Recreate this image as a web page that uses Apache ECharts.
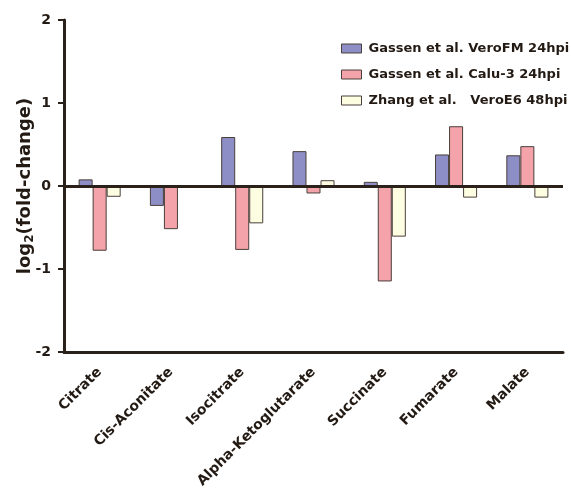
<!DOCTYPE html>
<html><head><meta charset="utf-8">
<script src="https://cdn.jsdelivr.net/npm/echarts@6/dist/echarts.min.js"></script>
<style>html,body{margin:0;padding:0;background:#fff}#c{width:571px;height:495px}</style>
</head><body><div id="c"></div>
<script>
var categories = ['Citrate','Cis-Aconitate','Isocitrate','Alpha-Ketoglutarate','Succinate','Fumarate','Malate'];
var seriesNames = ['Gassen et al. VeroFM 24hpi','Gassen et al. Calu-3 24hpi','Zhang et al.   VeroE6 48hpi'];
var veroFM = [0.08, -0.24, 0.59, 0.42, 0.05, 0.38, 0.37];
var calu3 = [-0.78, -0.52, -0.77, -0.09, -1.15, 0.72, 0.48];
var veroE6 = [-0.13, null, -0.45, 0.07, -0.61, -0.14, -0.14];
var yTicks = [-2, -1, 0, 1, 2];

var colors = ['#8e8ec6', '#f4a3aa', '#fdfde2'];
var axisColor = '#2a211b';
var txt = '#231a14';
var font = 'DejaVu Sans, Liberation Sans, Arial, sans-serif';

var chart = echarts.init(document.getElementById('c'));
var data = [veroFM, calu3, veroE6];
var series = data.map(function (d, i) {
  var s = {
    name: seriesNames[i],
    type: 'bar',
    data: d,
    barGap: '0%',
    barCategoryGap: '41%',
    itemStyle: { color: colors[i], borderColor: '#4a3f3a', borderWidth: 1 }
  };
  if (i === 2) {
    s.markLine = {
      silent: true, symbol: 'none', label: { show: false },
      lineStyle: { color: axisColor, width: 3, type: 'solid' },
      data: [{ yAxis: 0 }]
    };
  }
  return s;
});

chart.setOption({
  animation: false,
  color: colors,
  grid: { left: 64, right: 8, top: 20, bottom: 143, containLabel: false, outerBoundsMode: 'none' },
  legend: {
    orient: 'vertical', left: 336, top: 37,
    itemWidth: 20, itemHeight: 9, itemGap: 13,
    icon: 'rect',
    textStyle: { fontFamily: font, fontWeight: 'bold', fontSize: 13, color: txt, padding: [0,0,0,2] },
    itemStyle: { borderColor: '#4a3f3a', borderWidth: 1 },
    data: seriesNames
  },
  xAxis: {
    type: 'category', data: categories,
    axisLine: { onZero: false, lineStyle: { color: axisColor, width: 3 } },
    axisTick: { alignWithLabel: true, length: 6, lineStyle: { color: axisColor, width: 2 } },
    axisLabel: { rotate: 45, interval: 0, fontFamily: font, fontWeight: 'bold', fontSize: 14, color: txt, margin: 18 }
  },
  yAxis: {
    type: 'value', min: -2, max: 2, interval: 1,
    name: '{a|log}{b|2}{a|(fold-change)}',
    nameLocation: 'middle', nameGap: 28, nameRotate: 90, nameMoveOverlap: false,
    nameTextStyle: {
      rich: {
        a: { fontFamily: font, fontWeight: 'bold', fontSize: 18, color: txt },
        b: { fontFamily: font, fontWeight: 'bold', fontSize: 12, color: txt, verticalAlign: 'bottom', padding: [9,0,0,0] }
      }
    },
    axisLine: { show: true, lineStyle: { color: axisColor, width: 3 } },
    axisTick: { show: true, length: 6, lineStyle: { color: axisColor, width: 2 } },
    splitLine: { show: false },
    axisLabel: { fontFamily: font, fontWeight: 'bold', fontSize: 14, color: txt, margin: 13,
      formatter: function (v) { return yTicks.indexOf(v) >= 0 ? String(v) : ''; } }
  },
  series: series
});
</script></body></html>
